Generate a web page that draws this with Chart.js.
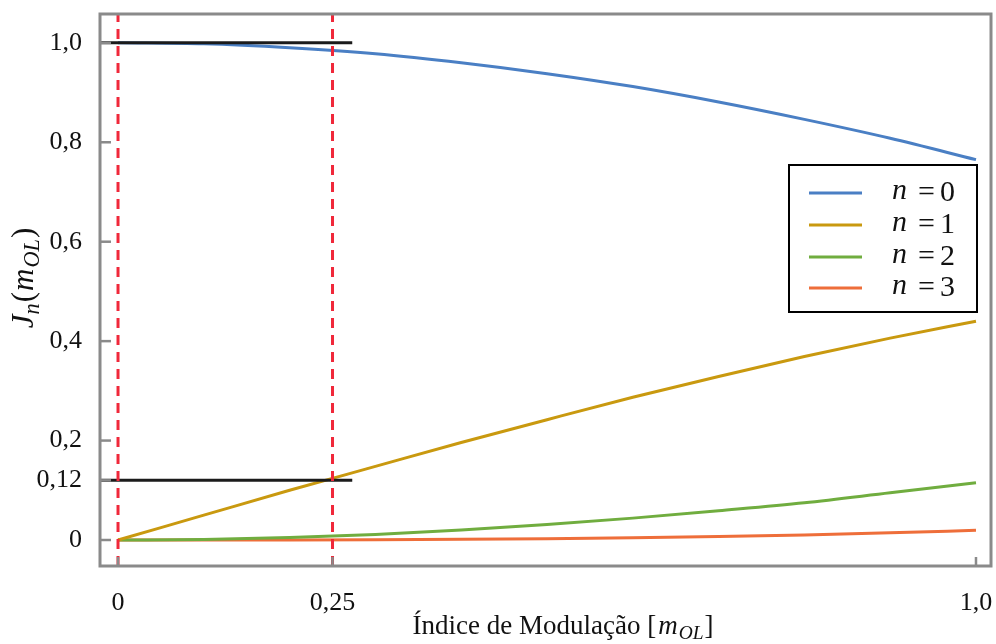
<!DOCTYPE html>
<html lang="pt">
<head>
<meta charset="utf-8">
<title>Jn(mOL)</title>
<script src="https://cdn.jsdelivr.net/npm/chart.js@4.4.0/dist/chart.umd.min.js"></script>
<style>
  html, body { margin: 0; padding: 0; background: #fff; }
  #wrap { width: 996px; height: 644px; position: relative; }
</style>
</head>
<body>
<div id="wrap"><canvas id="chart" width="996" height="644"></canvas></div>
<script>
// Modulation index samples and Bessel curves
const modIndex = [0, 0.1, 0.2, 0.3, 0.4, 0.5, 0.6, 0.7, 0.8, 0.9, 1.0];
const j0 = [1.000, 0.998, 0.990, 0.978, 0.960, 0.938, 0.912, 0.881, 0.846, 0.808, 0.765];
const j1 = [0, 0.050, 0.100, 0.148, 0.196, 0.242, 0.287, 0.329, 0.369, 0.406, 0.440];
const j2 = [0, 0.001, 0.005, 0.011, 0.020, 0.031, 0.044, 0.059, 0.075, 0.095, 0.115];
const j3 = [0, 0.000, 0.0002, 0.0006, 0.0013, 0.0026, 0.0044, 0.0069, 0.0102, 0.0144, 0.0196];

const seriesNames = ['n = 0', 'n = 1', 'n = 2', 'n = 3'];
const seriesColors = ['#4a7fc4', '#c9990f', '#70ad3f', '#ee6e3a'];

// Tick values / labels
const xTicks = [0, 0.25, 1.0];
const xTickLabels = ['0', '0,25', '1,0'];
const yTicks = [0, 0.12, 0.2, 0.4, 0.6, 0.8, 1.0];
const yTickLabels = ['0', '0,12', '0,2', '0,4', '0,6', '0,8', '1,0'];

// Reference guides
const markerX = [0, 0.25];
const refLevels = [1.0, 0.12];
const refLineEnd = 0.273;

const X_MIN = -0.021, X_MAX = 1.0175;
const Y_MIN = -0.0523, Y_MAX = 1.058;

const SERIF = '"Liberation Serif", "Times New Roman", serif';

const curves = [j0, j1, j2, j3].map((vals, i) => ({
  label: seriesNames[i],
  data: modIndex.map((x, k) => ({ x: x, y: vals[k] })),
  borderColor: seriesColors[i],
  borderWidth: 3,
  cubicInterpolationMode: 'monotone',
  pointRadius: 0,
  showLine: true,
  order: 2,
}));

const refLines = refLevels.map(v => ({
  label: 'ref',
  data: [{ x: X_MIN, y: v }, { x: refLineEnd, y: v }],
  borderColor: '#1b1b1b',
  borderWidth: 3,
  pointRadius: 0,
  showLine: true,
  order: 1,
}));

const markerLines = markerX.map(x => ({
  label: 'marker',
  data: [{ x: x, y: Y_MIN }, { x: x, y: Y_MAX }],
  borderColor: '#f0283a',
  borderWidth: 3,
  borderDash: [10, 7],
  pointRadius: 0,
  showLine: true,
  order: 0,
}));

// text with italic / subscript pieces
function richWidth(ctx, parts, size) {
  let w = 0;
  parts.forEach(p => {
    const s = p.sub ? size * 0.72 : size;
    ctx.font = (p.italic ? 'italic ' : '') + s + 'px ' + SERIF;
    w += ctx.measureText(p.t).width + (p.gap || 0);
  });
  return w;
}
function drawRich(ctx, parts, x, y, size) {
  let cx = x;
  parts.forEach(p => {
    const s = p.sub ? size * 0.72 : size;
    ctx.font = (p.italic ? 'italic ' : '') + s + 'px ' + SERIF;
    ctx.fillText(p.t, cx, p.sub ? y + size * 0.2 : y);
    cx += ctx.measureText(p.t).width + (p.gap || 0);
  });
}

const decorPlugin = {
  id: 'decor',
  afterDraw(chart) {
    const ctx = chart.ctx;
    const a = chart.chartArea;
    const xs = chart.scales.x, ys = chart.scales.y;
    ctx.save();

    // frame
    ctx.strokeStyle = '#8a8a8a';
    ctx.lineWidth = 3;
    ctx.strokeRect(a.left, a.top, a.right - a.left, a.bottom - a.top);

    // inward ticks
    ctx.lineWidth = 2.5;
    yTicks.forEach(v => {
      const py = ys.getPixelForValue(v);
      ctx.beginPath(); ctx.moveTo(a.left, py); ctx.lineTo(a.left + 11, py); ctx.stroke();
    });
    xTicks.forEach(v => {
      const px = xs.getPixelForValue(v);
      ctx.beginPath(); ctx.moveTo(px, a.bottom); ctx.lineTo(px, a.bottom - 9); ctx.stroke();
    });

    // axis titles
    ctx.fillStyle = '#111';
    ctx.textBaseline = 'alphabetic';
    ctx.textAlign = 'left';
    const xTitle = [
      { t: 'Índice de Modulação [', gap: 2 },
      { t: 'm', italic: true, gap: 1 },
      { t: 'OL', italic: true, sub: true, gap: 1 },
      { t: ']' },
    ];
    const xw = richWidth(ctx, xTitle, 27);
    drawRich(ctx, xTitle, 563 - xw / 2, 634, 27);

    const yTitle = [
      { t: 'J', italic: true },
      { t: 'n', italic: true, sub: true, gap: 1 },
      { t: '(', gap: 1 },
      { t: 'm', italic: true, gap: 1 },
      { t: 'OL', italic: true, sub: true, gap: 1 },
      { t: ')' },
    ];
    const yw = richWidth(ctx, yTitle, 31);
    ctx.save();
    ctx.translate(33, 278);
    ctx.rotate(-Math.PI / 2);
    drawRich(ctx, yTitle, -yw / 2, 0, 31);
    ctx.restore();

    // legend
    const lx = 789, ly = 165, lw = 188, lh = 147;
    ctx.fillStyle = '#fff';
    ctx.fillRect(lx, ly, lw, lh);
    ctx.strokeStyle = '#000';
    ctx.lineWidth = 2;
    ctx.strokeRect(lx, ly, lw, lh);
    const rows = [193, 225, 257, 288];
    seriesNames.forEach((name, i) => {
      ctx.strokeStyle = seriesColors[i];
      ctx.lineWidth = 3;
      ctx.beginPath(); ctx.moveTo(809, rows[i]); ctx.lineTo(862, rows[i]); ctx.stroke();
      ctx.fillStyle = '#111';
      ctx.textBaseline = 'middle';
      ctx.font = 'italic 30px ' + SERIF;
      ctx.fillText('n', 892, rows[i] - 2);
      ctx.font = '30px ' + SERIF;
      ctx.fillText('=', 918, rows[i]);
      ctx.fillText(name.slice(-1), 940, rows[i]);
    });
    ctx.restore();
  }
};

new Chart(document.getElementById('chart'), {
  type: 'scatter',
  data: { datasets: [...markerLines, ...refLines, ...curves] },
  options: {
    responsive: false,
    animation: false,
    layout: { padding: { left: 0, top: 14, right: 5, bottom: 0 } },
    plugins: {
      legend: { display: false },
      tooltip: { enabled: false },
    },
    scales: {
      x: {
        type: 'linear',
        min: X_MIN,
        max: X_MAX,
        grid: { display: false },
        border: { display: false },
        afterBuildTicks: s => { s.ticks = xTicks.map(v => ({ value: v })); },
        afterFit: s => { s.height = 78; s.paddingLeft = 0; s.paddingRight = 0; },
        ticks: {
          color: '#111',
          font: { family: SERIF, size: 26 },
          padding: 14,
          maxRotation: 0,
          autoSkip: false,
          callback: v => xTickLabels[xTicks.indexOf(v)],
        },
      },
      y: {
        type: 'linear',
        min: Y_MIN,
        max: Y_MAX,
        grid: { display: false },
        border: { display: false },
        afterBuildTicks: s => { s.ticks = yTicks.map(v => ({ value: v })); },
        afterFit: s => { s.width = 100; s.paddingTop = 0; s.paddingBottom = 0; },
        ticks: {
          color: '#111',
          font: { family: SERIF, size: 26 },
          padding: 10,
          autoSkip: false,
          callback: v => yTickLabels[yTicks.indexOf(v)],
        },
      },
    },
  },
  plugins: [decorPlugin],
});
</script>
</body>
</html>
